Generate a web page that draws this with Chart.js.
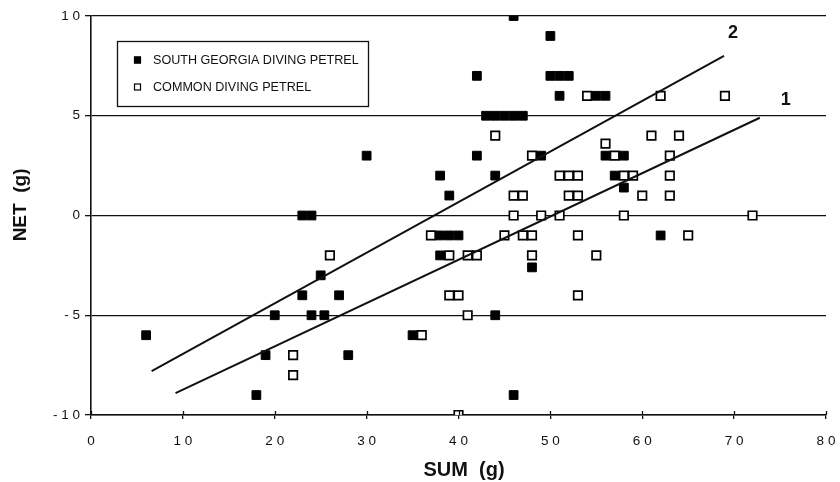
<!DOCTYPE html>
<html lang="en">
<head>
    <meta charset="UTF-8">
    <title>NET vs SUM - diving petrels</title>
    <script src="https://cdn.jsdelivr.net/npm/chart.js"></script>
    <style>
        body {
            margin: 0;
            background: #fff;
        }
        canvas {
            display: block;
        }
    </style>
</head>
<body>
    <canvas id="petrelChart" width="840" height="482"></canvas>

    <script>
        // South Georgia diving petrel (filled squares)
        const sgSum = [6, 18, 19, 20, 23, 23, 24, 24, 25, 25.4, 27, 28, 30, 35, 38, 38, 39, 40, 38, 39,
                       42, 42, 43, 44, 45, 46, 47, 44, 44, 46, 46, 48, 49, 50, 50, 51, 52, 51, 55, 56,
                       56, 57, 58, 58, 62];
        const sgNet = [-6, -9, -7, -5, -4, 0, 0, -5, -3, -5, -4, -7, 3, -6, 2, -1, -1, -1, -2, 1,
                       7, 3, 5, 5, 5, 5, 5, 2, -5, 10, -9, -2.6, 3, 9, 7, 7, 7, 6, 6, 6,
                       3, 2, 3, 1.4, -1];

        // Common diving petrel (open squares)
        const cdSum = [22, 22, 26, 36, 37, 39, 41, 42, 39, 40, 40, 41, 44, 45, 46, 46, 47, 47, 48, 48,
                       48, 49, 51, 51, 52, 53, 52, 53, 53, 53, 54, 55, 56, 57, 58, 59, 58, 60, 61, 62,
                       63, 63, 63, 64, 65, 69, 72];
        const cdNet = [-7, -8, -2, -6, -1, -2, -2, -2, -4, -4, -10, -5, 4, -1, 1, 0, 1, -1, -1, -2,
                       3, 0, 0, 2, 2, 2, 1, 1, -1, -4, 6, -2, 3.6, 3, 2, 2, 0, 1, 4, 6,
                       3, 2, 1, 4, -1, 6, 0];

        // regression lines (end points)
        const line1Sum = [9.2, 72.8];
        const line1Net = [-8.9, 4.9];
        const line2Sum = [6.6, 68.9];
        const line2Net = [-7.8, 8.0];

        const xTicks = [0, 10, 20, 30, 40, 50, 60, 70, 80];
        const yTicks = [-10, -5, 0, 5, 10];

        const FONT = "'Liberation Sans', Arial, sans-serif";
        const INK = '#111';

        const zip = (xs, ys) => xs.map((x, i) => ({ x: x, y: ys[i] }));
        // "10" -> "1 0", "-5" -> "- 5" like the original print
        const spaced = v => String(v).split('').join(' ');

        // legend box, regression labels and the upper half of the x ticks
        const extras = {
            id: 'extras',
            afterDatasetsDraw(chart) {
                const ctx = chart.ctx;
                const area = chart.chartArea;
                const xs = chart.scales.x;

                ctx.save();
                ctx.strokeStyle = INK;
                ctx.lineWidth = 1.3;
                ctx.beginPath();
                xTicks.forEach(v => {
                    const px = Math.round(xs.getPixelForValue(v)) + 0.5;
                    ctx.moveTo(px, area.bottom - 4);
                    ctx.lineTo(px, area.bottom);
                });
                ctx.stroke();

                // line labels "1" and "2"
                ctx.fillStyle = INK;
                ctx.font = 'bold 18px ' + FONT;
                ctx.textAlign = 'center';
                ctx.textBaseline = 'middle';
                const labelOffsets = { 0: [26, -18], 1: [9, -23] };
                [0, 1].forEach(i => {
                    const pts = chart.getDatasetMeta(i).data;
                    const end = pts[pts.length - 1];
                    const off = labelOffsets[i];
                    ctx.fillText(chart.data.datasets[i].label, end.x + off[0], end.y + off[1]);
                });

                // legend
                const lx = area.left + 26, ly = area.top + 25;
                ctx.fillStyle = '#fff';
                ctx.fillRect(lx, ly, 251, 65);
                ctx.lineWidth = 1.3;
                ctx.strokeRect(lx + 0.5, ly + 0.5, 251, 65);
                ctx.textAlign = 'left';
                [2, 3].forEach((i, row) => {
                    const ds = chart.data.datasets[i];
                    const cy = ly + 19 + row * 27;
                    ctx.fillStyle = ds.backgroundColor;
                    ctx.fillRect(lx + 17, cy - 3.5, 7, 7);
                    ctx.strokeStyle = ds.borderColor;
                    ctx.lineWidth = 1.2;
                    ctx.strokeRect(lx + 17.5, cy - 3, 6, 6);
                    ctx.fillStyle = INK;
                    ctx.font = '12.6px ' + FONT;
                    ctx.fillText(ds.label, lx + 36, cy + 0.5);
                });
                ctx.restore();
            }
        };

        new Chart(document.getElementById('petrelChart'), {
            type: 'scatter',
            data: {
                datasets: [
                    {
                        label: '1',
                        data: zip(line1Sum, line1Net),
                        showLine: true,
                        borderColor: INK,
                        borderWidth: 2,
                        pointRadius: 0
                    },
                    {
                        label: '2',
                        data: zip(line2Sum, line2Net),
                        showLine: true,
                        borderColor: INK,
                        borderWidth: 2,
                        pointRadius: 0
                    },
                    {
                        label: 'SOUTH GEORGIA DIVING PETREL',
                        data: zip(sgSum, sgNet),
                        pointStyle: 'rect',
                        pointRadius: 6.2,
                        backgroundColor: '#000',
                        borderColor: '#000',
                        borderWidth: 1
                    },
                    {
                        label: 'COMMON DIVING PETREL',
                        data: zip(cdSum, cdNet),
                        pointStyle: 'rect',
                        pointRadius: 6,
                        backgroundColor: '#fff',
                        borderColor: '#000',
                        borderWidth: 1.7
                    }
                ]
            },
            options: {
                responsive: false,
                animation: false,
                devicePixelRatio: 1,
                layout: {
                    autoPadding: false,
                    padding: { top: 16, right: 14, left: 0, bottom: 0 }
                },
                plugins: {
                    legend: { display: false },
                    tooltip: { enabled: false }
                },
                scales: {
                    x: {
                        type: 'linear',
                        min: 0,
                        max: 80,
                        afterBuildTicks: s => { s.ticks = xTicks.map(v => ({ value: v })); },
                        afterFit: s => {
                            s.height = 67;
                            // tick padding would otherwise eat into the right edge
                            s.paddingLeft = 0;
                            s.paddingRight = 0;
                        },
                        ticks: {
                            callback: v => spaced(v),
                            color: INK,
                            font: { family: FONT, size: 13.5 },
                            padding: 14,
                            maxRotation: 0
                        },
                        grid: {
                            drawOnChartArea: false,
                            drawTicks: true,
                            tickLength: 4,
                            color: INK,
                            lineWidth: 1.3
                        },
                        border: { color: INK, width: 1.6 },
                        title: {
                            display: true,
                            // leading spaces nudge the title right, as in the print
                            text: '  SUM  (g)',
                            color: INK,
                            font: { family: FONT, size: 20, weight: 'bold' },
                            padding: { top: 0, bottom: 0 }
                        }
                    },
                    y: {
                        type: 'linear',
                        min: -10,
                        max: 10,
                        afterBuildTicks: s => { s.ticks = yTicks.map(v => ({ value: v })); },
                        afterFit: s => { s.width = 91; },
                        ticks: {
                            callback: v => spaced(v),
                            color: INK,
                            font: { family: FONT, size: 13.5 },
                            padding: 5
                        },
                        grid: {
                            color: INK,
                            lineWidth: 1.3,
                            tickLength: 6
                        },
                        border: { color: INK, width: 1.6 },
                        title: {
                            display: true,
                            text: '    NET  (g)',
                            color: INK,
                            font: { family: FONT, size: 19, weight: 'bold' },
                            padding: { top: 9, bottom: 0 }
                        }
                    }
                }
            },
            plugins: [extras]
        });
    </script>
</body>
</html>
